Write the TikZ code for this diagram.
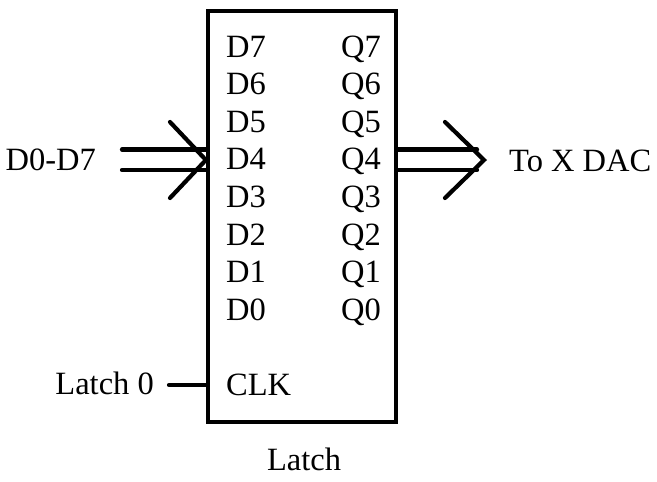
\documentclass[tikz,border=0pt]{standalone}
\usepackage{fontspec}
\setmainfont{Liberation Serif}
\begin{document}
\begin{tikzpicture}[x=1pt,y=-1pt,
  lbl/.style={inner sep=0pt,font=\fontsize{32.5}{38}\selectfont},
  wire/.style={line width=4.2pt,line cap=round,line join=miter},
  boxst/.style={draw,line width=4.2pt,rectangle,minimum width=188pt,minimum height=411pt,inner sep=0pt}]
\useasboundingbox (0,0) rectangle (657,482);
\node[boxst] (box) at (302,216.5) {};
\foreach \i [count=\k from 0] in {7,6,5,4,3,2,1,0}{
  \node[lbl,anchor=base west] (d\i) at (226,{57+37.6*\k}) {D\i};
  \node[lbl,anchor=base west] (q\i) at (341,{57+37.6*\k}) {Q\i};
}
\node[lbl,anchor=base west] (clk) at (226,395) {CLK};
\node[lbl,anchor=base east] (din) at (96,170) {D0-D7};
\node[lbl,anchor=base west] (dac) at (509,171) {To X DAC};
\node[lbl,anchor=base east] (l0) at (154,394) {Latch 0};
\node[lbl,anchor=base] (lname) at (304,470) {Latch};
% input bus arrow
\coordinate (ia) at (122,149.5);
\coordinate (ib) at (122,170);
\coordinate (ic) at (170,122);
\coordinate (id) at (170,198);
\coordinate (itip) at (box.west |- 0,160);
\draw[wire] (ia) -- (ia -| box.west);
\draw[wire] (ib) -- (ib -| box.west);
\draw[wire] (ic) -- (itip) -- (id);
% output bus arrow
\coordinate (oa) at (477,149.5);
\coordinate (ob) at (477,170);
\coordinate (oc) at (445,122);
\coordinate (od) at (445,198);
\coordinate (otip) at (484,160);
\draw[wire] (oa -| box.east) -- (oa);
\draw[wire] (ob -| box.east) -- (ob);
\draw[wire] (oc) -- (otip) -- (od);
% clock line
\coordinate (cl) at (169,385);
\draw[wire] (cl) -- (cl -| box.west);
\end{tikzpicture}
\end{document}
